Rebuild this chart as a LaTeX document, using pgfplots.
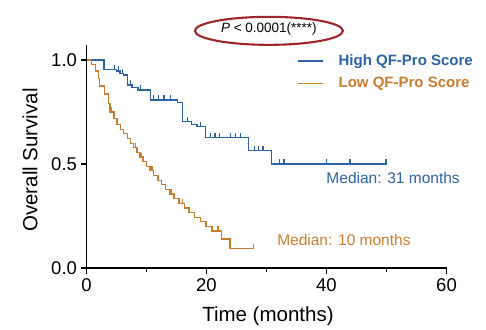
\documentclass[border=0pt]{standalone}
\usepackage{fontspec}
\setmainfont{Liberation Sans}
\usepackage{pgfplots}
\pgfplotsset{compat=1.18}
\usepackage{pgfplotstable}
\definecolor{hblue}{RGB}{44,98,168}
\definecolor{lorange}{RGB}{204,124,46}
\definecolor{ered}{RGB}{160,36,44}
\pgfdeclareplotmark{cens}{\pgfpathmoveto{\pgfqpoint{0pt}{0pt}}\pgfpathlineto{\pgfqpoint{0pt}{4.5pt}}\pgfusepathqstroke}

\pgfplotstableread{
t s
0 1.000
2.9 0.955
5.0 0.947
5.6 0.936
6.2 0.928
6.8 0.880
7.6 0.868
8.6 0.856
10.7 0.808
15.2 0.795
16.0 0.703
17.5 0.690
18.4 0.680
19.8 0.628
27.0 0.564
30.8 0.500
50.0 0.500
}\highcurve

\pgfplotstableread{
t s
4.6 0.955
5.3 0.947
6.0 0.936
7.3 0.880
9.0 0.856
11.2 0.808
12.0 0.808
12.9 0.808
14.0 0.808
16.8 0.703
19.0 0.680
20.7 0.628
21.4 0.628
22.2 0.628
24.0 0.628
24.8 0.628
25.6 0.628
28.0 0.564
28.7 0.564
29.4 0.564
32.2 0.500
32.9 0.500
40.0 0.500
43.9 0.500
49.9 0.500
}\highcens

\pgfplotstableread{
t s
0 1.000
0.8 0.978
1.5 0.947
2.0 0.910
2.2 0.875
3.0 0.836
3.7 0.790
3.9 0.750
4.6 0.720
5.1 0.690
5.7 0.667
6.2 0.645
6.8 0.622
7.3 0.600
7.8 0.578
8.4 0.556
8.9 0.533
9.4 0.511
10.0 0.489
10.6 0.467
11.2 0.444
11.9 0.422
12.5 0.400
13.2 0.378
13.9 0.356
14.6 0.333
15.4 0.311
16.3 0.289
17.1 0.267
18.0 0.244
19.0 0.222
19.9 0.200
20.9 0.178
22.5 0.140
23.9 0.093
27.8 0.093
}\lowcurve

\pgfplotstableread{
t s
4.1 0.750
8.1 0.578
9.2 0.533
10.9 0.467
14.2 0.356
16.0 0.311
21.9 0.178
27.8 0.093
}\lowcens

\begin{document}
\begin{tikzpicture}
\begin{axis}[
  at={(86.5pt,61pt)}, anchor=south west,
  scale only axis, width=360pt, height=222.6pt,
  xmin=0, xmax=60, ymin=0, ymax=1.07,
  clip=false,
  axis x line=bottom, axis y line=left,
  axis line style={-, line width=1.3pt, black},
  every tick/.style={black, line width=1.3pt},
  tick align=outside,
  major tick length=6pt, minor tick length=4pt,
  xtick={0,20,40,60}, minor xtick={10,30,50},
  ytick={0,0.5,1},
  yticklabel style={/pgf/number format/.cd, fixed, fixed zerofill, precision=1},
  /pgf/number format/assume math mode=true,
  tick label style={font=\fontsize{18.5}{20}\selectfont},
  xticklabel style={yshift=-1pt},
  xlabel={Time (months)},
  ylabel={Overall Survival},
  label style={font=\fontsize{20.5}{24}\selectfont},
  xlabel style={at={(axis description cs:0.504,-0.216)}, anchor=center},
  ylabel style={at={(axis description cs:-0.157,0.485)}, anchor=center, rotate=0},
  legend style={draw=none, fill=none, at={(axis cs:34.6,1.045)}, anchor=north west,
    font=\bfseries\fontsize{15}{17}\selectfont, row sep=6pt,
    /tikz/every odd column/.append style={column sep=13pt}},
  legend cell align=left,
  legend image code/.code={\draw[#1] (0pt,0pt) -- (25pt,0pt);},
]
\addplot[const plot, hblue, line width=1.3pt] table[x=t,y=s] {\highcurve};
\addlegendentry{\textcolor{hblue}{High QF-Pro Score}}
\addplot[const plot, lorange, line width=1.3pt] table[x=t,y=s] {\lowcurve};
\addlegendentry{\textcolor{lorange}{Low QF-Pro Score}}
\addplot[only marks, mark=cens, hblue, line width=1.2pt, forget plot] table[x=t,y=s] {\highcens};
\addplot[only marks, mark=cens, lorange, line width=1.2pt, forget plot] table[x=t,y=s] {\lowcens};
\node[font=\fontsize{15.5}{18}\selectfont, text=hblue] at (axis cs:51.1,0.433) {Median: 31 months};
\node[font=\fontsize{15.5}{18}\selectfont, text=lorange] at (axis cs:42.9,0.135) {Median: 10 months};
\node[font=\fontsize{13.5}{16}\selectfont] at (axis cs:30.4,1.150) {\textit{P} < 0.0001(****)};
\draw[ered, line width=2.1pt] (axis cs:30.4,1.140) ellipse [x radius=74pt, y radius=14pt];
\end{axis}
\pgfresetboundingbox
\useasboundingbox (0,0) rectangle (486pt,329pt);
\end{tikzpicture}
\end{document}
